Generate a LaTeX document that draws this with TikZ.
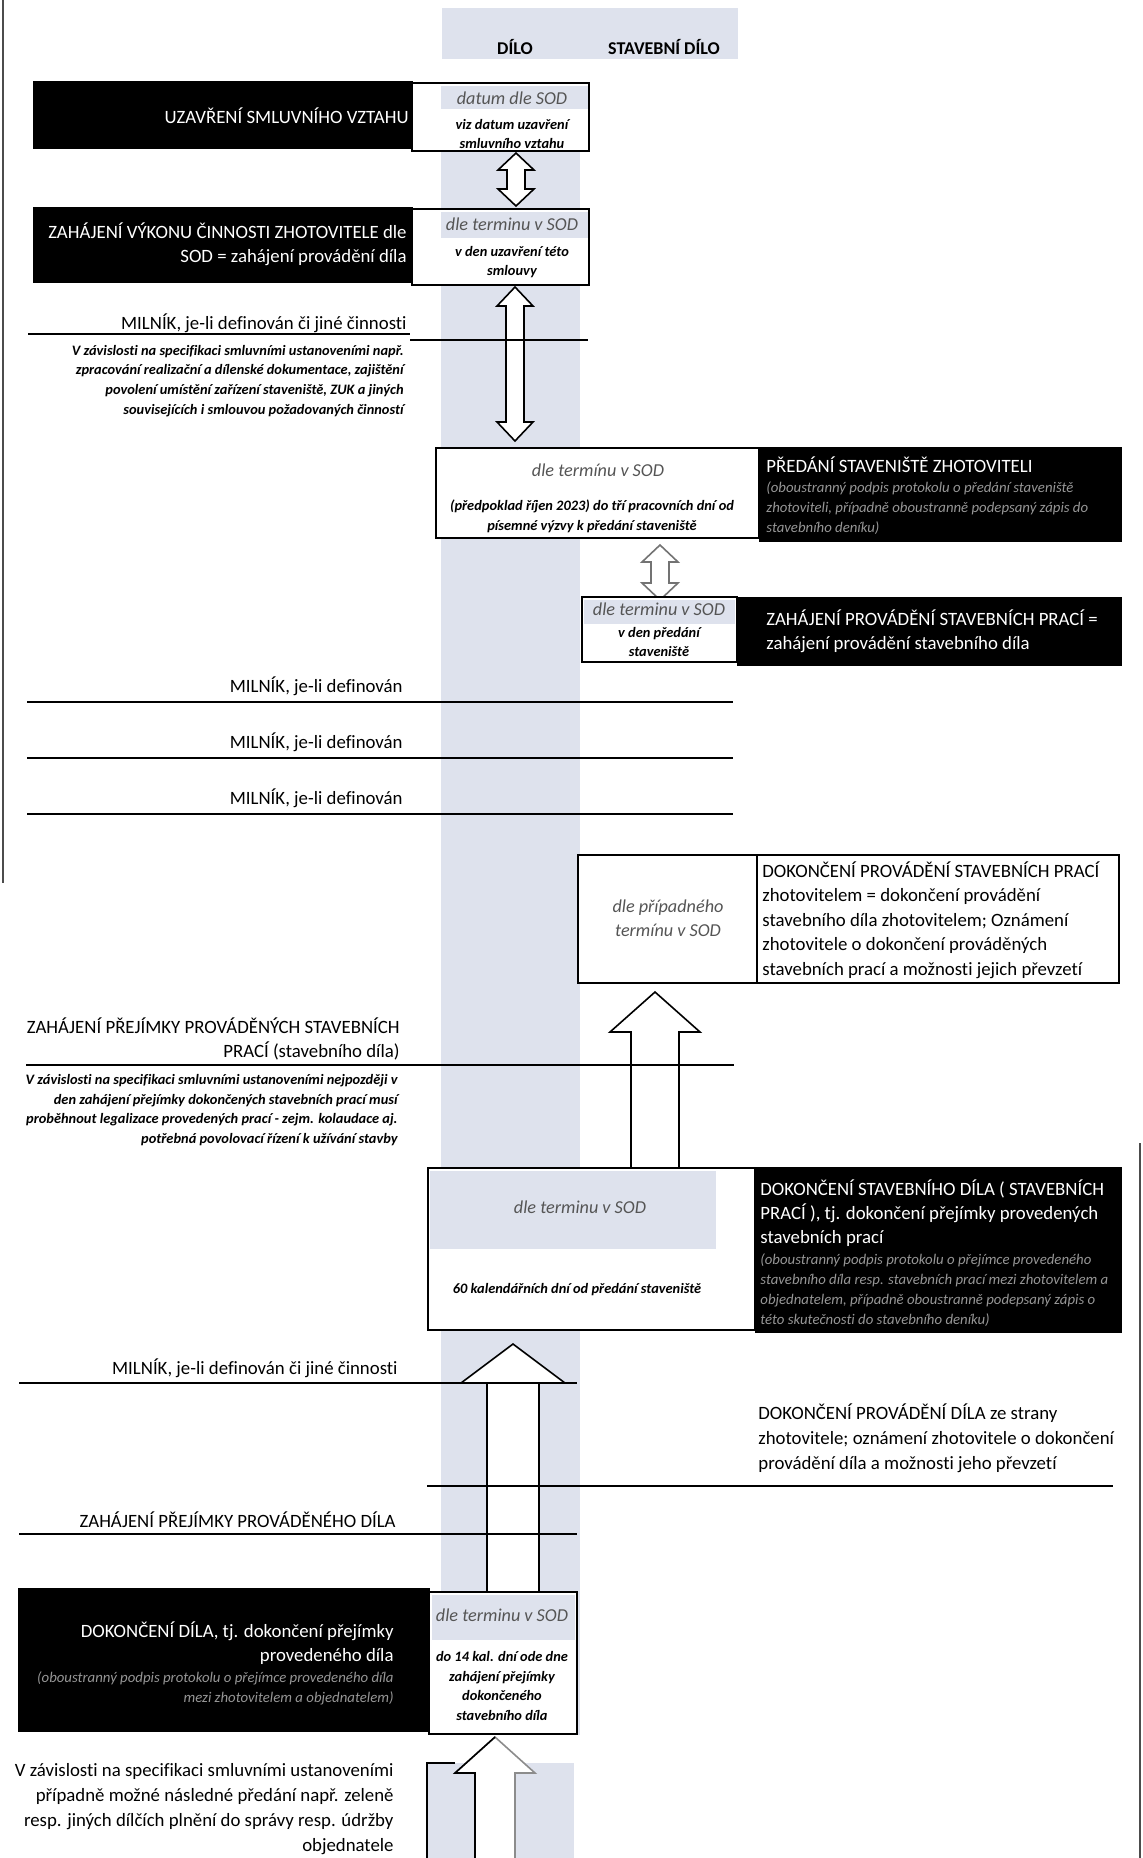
\documentclass[tikz,border=0pt]{standalone}
\usepackage{fontspec}
\setmainfont{Carlito}[Ligatures=NoCommon]
\usepackage{xcolor}

\definecolor{bandgray}{RGB}{222,226,237}
\definecolor{datetext}{RGB}{85,85,85}
\definecolor{faintgray}{RGB}{150,150,150}

% block arrows: [style] x, y top, y bottom, head half width, shaft half width, head length
\newcommand{\dblarrow}[7][]{%
  \draw[blockarr,#1] (#2,#3) -- ({#2+#5},{#3+#7}) -- ({#2+#6},{#3+#7}) -- ({#2+#6},{#4-#7})
    -- ({#2+#5},{#4-#7}) -- (#2,#4) -- ({#2-#5},{#4-#7}) -- ({#2-#6},{#4-#7})
    -- ({#2-#6},{#3+#7}) -- ({#2-#5},{#3+#7}) -- cycle;}
\newcommand{\uparr}[7][]{%
  \draw[blockarr,#1] (#2,#3) -- ({#2+#5},{#3+#7}) -- ({#2+#6},{#3+#7}) -- ({#2+#6},#4)
    -- ({#2-#6},#4) -- ({#2-#6},{#3+#7}) -- ({#2-#5},{#3+#7}) -- cycle;}

\begin{document}
\begin{tikzpicture}[x=0.5pt, y=-0.5pt,
  every node/.style={inner sep=0pt, font=\fontsize{9.4}{12.1}\selectfont},
  colhead/.style={font=\fontsize{9}{10}\selectfont\bfseries},
  onblack/.style={text=white, align=right, anchor=east},
  onblackleft/.style={text=white, align=left, anchor=west},
  faint/.style={text=faintgray, font=\fontsize{7.4}{10}\selectfont\itshape},
  datum/.style={text=datetext, font=\fontsize{9.1}{12}\selectfont\itshape, align=center},
  note/.style={font=\fontsize{7.2}{9.9}\selectfont\bfseries\itshape, align=center},
  milestone/.style={align=right, anchor=east},
  blackbox/.style={fill=black, draw=black},
  whitebox/.style={fill=white, draw=black, line width=1pt},
  blockarr/.style={draw=black, fill=white, line width=0.8pt},
  rule/.style={line width=1pt}]

  \useasboundingbox (0,0) rectangle (1143,1858);

  % column band and header
  \fill[bandgray] (441,83) rectangle (580,1735);
  \fill[bandgray] (427,1763) rectangle (574,1862);
  \fill[bandgray] (442,8) rectangle (738,59);
  \node[colhead] (dilo) at (515,47) {DÍLO};
  \node[colhead] (stavdilo) at (664,47) {STAVEBNÍ DÍLO};

  % page borders
  \draw[line width=1pt, black!70] (3,0) -- (3,883);
  \draw[line width=1pt, black!70] (1140,1143) -- (1140,1858);

  % block arrows
  \dblarrow{516}{153}{206}{18}{9}{17}
  \dblarrow{515}{287}{441}{18}{9}{19}
  \dblarrow[draw=black!55]{660}{545}{600}{18}{9}{17}
  \uparr{655}{992}{1168}{45}{24}{40}
  \uparr{513}{1344}{1592}{52}{26}{39}
  \uparr[draw=black!45]{495}{1737}{1870}{40}{20}{36}
  \draw[line width=0.8pt] (495,1737) -- (455,1773) -- (475,1773) -- (475,1870);
  \draw[line width=0.8pt] (427,1870) -- (427,1763) -- (455,1763);

  % row 1
  \draw[blackbox] (33,81) rectangle (412,148);
  \draw[whitebox] (412,83) rectangle (589,151);
  \fill[bandgray] (441,86) rectangle (588,109);
  \node[onblack] (contract) at (409,116) {UZAVŘENÍ SMLUVNÍHO VZTAHU};
  \node[datum] (date1) at (512,98) {datum dle SOD};
  \node[note] (note1) at (512,134) {viz datum uzavření\\smluvního vztahu};

  % row 2
  \draw[blackbox] (33,207) rectangle (412,282);
  \draw[whitebox] (412,209) rectangle (589,285);
  \fill[bandgray] (441,212) rectangle (588,238);
  \node[onblack] (start) at (407,244) {ZAHÁJENÍ VÝKONU ČINNOSTI ZHOTOVITELE dle\\SOD = zahájení provádění díla};
  \node[datum] (date2) at (512,224) {dle terminu v SOD};
  \node[note] (note2) at (512,262) {v den uzavření této\\smlouvy};

  % milestone 1
  \node[milestone] (mil1) at (407,323) {MILNÍK, je-li definován či jiné činnosti};
  \draw[rule] (28,334) -- (410,334);
  \draw[rule] (410,340) -- (588,340);
  \node[note, align=right, anchor=east] (mil1note) at (404,381)
    {V závislosti na specifikaci smluvními ustanoveními např.\\zpracování realizační a dílenské dokumentace, zajištění\\povolení umístění zařízení staveniště, ZUK a jiných\\souvisejících i smlouvou požadovaných činností};

  % row 3
  \draw[whitebox] (436,448) rectangle (759,538);
  \draw[blackbox] (759,447) rectangle (1121,541);
  \node[datum] (date3) at (598,470) {dle termínu v SOD};
  \node[note] (note3) at (592,516) {(předpoklad říjen 2023) do tří pracovních dní od\\písemné výzvy k předání staveniště};
  \node[onblackleft] (handover) at (766,465) {PŘEDÁNÍ STAVENIŠTĚ ZHOTOVITELI};
  \node[faint, align=left, anchor=west] (handnote) at (766,508)
    {(oboustranný podpis protokolu o předání staveniště\\zhotoviteli, případně oboustranně podepsaný zápis do\\stavebního deníku)};

  % row 4
  \draw[whitebox] (582,597) rectangle (737,662);
  \fill[bandgray] (584,600) rectangle (735,624);
  \draw[blackbox] (737,597) rectangle (1121,665);
  \node[datum] (date4) at (659,609) {dle terminu v SOD};
  \node[note] (note4) at (659,642) {v den předání\\staveniště};
  \node[onblackleft] (works) at (766,631) {ZAHÁJENÍ PROVÁDĚNÍ STAVEBNÍCH PRACÍ =\\zahájení provádění stavebního díla};

  % milestones 2-4
  \foreach \y/\ly in {702/686, 758/742, 814/798} {
    \node[milestone] (mil) at (403,\ly) {MILNÍK, je-li definován};
    \draw[rule] (27,\y) -- (733,\y);
  }

  % row 5
  \draw[whitebox] (578,855) rectangle (1119,983);
  \draw[line width=1pt] (757,855) -- (757,983);
  \node[datum] (date5) at (668,918) {dle případného\\termínu v SOD};
  \node[align=left, anchor=west, font=\fontsize{9.4}{12.3}\selectfont] (finish) at (762,920)
    {DOKONČENÍ PROVÁDĚNÍ STAVEBNÍCH PRACÍ\\zhotovitelem = dokončení provádění\\stavebního díla zhotovitelem; Oznámení\\zhotovitele o dokončení prováděných\\stavebních prací a možnosti jejich převzetí};

  % acceptance of works
  \node[milestone] (accept) at (400,1039) {ZAHÁJENÍ PŘEJÍMKY PROVÁDĚNÝCH STAVEBNÍCH\\PRACÍ (stavebního díla)};
  \draw[rule] (26,1065) -- (734,1065);
  \node[note, align=right, anchor=east] (acceptnote) at (398,1110)
    {V závislosti na specifikaci smluvními ustanoveními nejpozději v\\den zahájení přejímky dokončených stavebních prací musí\\proběhnout legalizace provedených prací - zejm. kolaudace aj.\\potřebná povolovací řízení k užívání stavby};

  % row 6
  \draw[whitebox] (428,1168) rectangle (755,1330);
  \fill[bandgray] (430,1171) rectangle (716,1249);
  \draw[blackbox] (755,1167) rectangle (1121,1332);
  \node[datum] (date6) at (580,1207) {dle terminu v SOD};
  \node[note] (note6) at (577,1290) {60 kalendářních dní od předání staveniště};
  \node[onblackleft] (done) at (760,1213) {DOKONČENÍ STAVEBNÍHO DÍLA ( STAVEBNÍCH\\PRACÍ ), tj. dokončení přejímky provedených\\stavebních prací};
  \node[faint, align=left, anchor=west] (donenote) at (760,1290)
    {(oboustranný podpis protokolu o přejímce provedeného\\stavebního díla resp. stavebních prací mezi zhotovitelem a\\objednatelem, případně oboustranně podepsaný zápis o\\této skutečnosti do stavebního deníku)};

  % milestone and acceptance of the work
  \node[milestone] (mil5) at (398,1368) {MILNÍK, je-li definován či jiné činnosti};
  \draw[rule] (19,1383) -- (577,1383);
  \node[align=left, anchor=west, font=\fontsize{9.4}{12.4}\selectfont] (workdone) at (758,1438)
    {DOKONČENÍ PROVÁDĚNÍ DÍLA ze strany\\zhotovitele; oznámení zhotovitele o dokončení\\provádění díla a možnosti jeho převzetí};
  \draw[rule] (427,1486) -- (1113,1486);
  \node[milestone] (accept2) at (396,1520) {ZAHÁJENÍ PŘEJÍMKY PROVÁDĚNÉHO DÍLA};
  \draw[rule] (19,1534) -- (577,1534);

  % row 7
  \draw[blackbox] (18,1588) rectangle (429,1731);
  \draw[whitebox] (429,1592) rectangle (577,1734);
  \fill[bandgray] (432,1595) rectangle (575,1640);
  \node[onblack] (final) at (394,1643) {DOKONČENÍ DÍLA, tj. dokončení přejímky\\provedeného díla};
  \node[faint, align=right, anchor=east] (finalnote) at (394,1688)
    {(oboustranný podpis protokolu o přejímce provedeného díla\\mezi zhotovitelem a objednatelem)};
  \node[datum] (date7) at (502,1615) {dle terminu v SOD};
  \node[note] (note7) at (502,1686) {do 14 kal. dní ode dne\\zahájení přejímky\\dokončeného\\stavebního díla};

  % after completion
  \node[milestone, font=\fontsize{9.4}{12.5}\selectfont] (after) at (394,1809)
    {V závislosti na specifikaci smluvními ustanoveními\\případně možné následné předání např. zeleně\\resp. jiných dílčích plnění do správy resp. údržby\\objednatele};

\end{tikzpicture}
\end{document}
